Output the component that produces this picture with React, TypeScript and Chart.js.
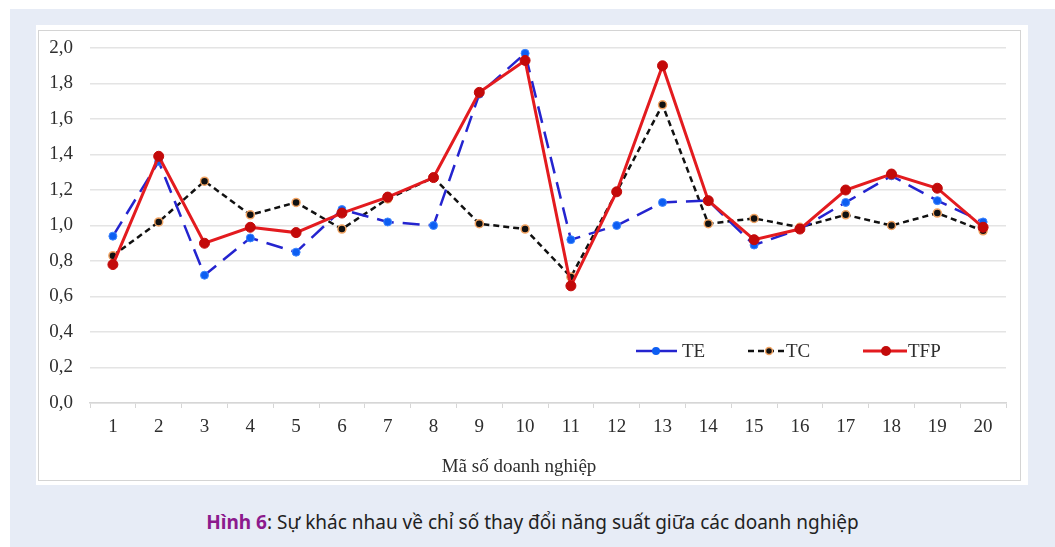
import React, { useEffect, useRef } from "react";
import { Chart, registerables } from "chart.js";

Chart.register(...registerables);

const categories = ["1","2","3","4","5","6","7","8","9","10","11","12","13","14","15","16","17","18","19","20"];
const teValues = [0.94,1.36,0.72,0.93,0.85,1.09,1.02,1.00,1.74,1.97,0.92,1.00,1.13,1.14,0.89,0.98,1.13,1.28,1.14,1.02];
const tcValues = [0.83,1.02,1.25,1.06,1.13,0.98,1.15,1.27,1.01,0.98,0.71,1.19,1.68,1.01,1.04,0.99,1.06,1.00,1.07,0.97];
const tfpValues = [0.78,1.39,0.90,0.99,0.96,1.07,1.16,1.27,1.75,1.93,0.66,1.19,1.90,1.14,0.92,0.98,1.20,1.29,1.21,0.99];
const yMin = 0;
const yMax = 2;
const yStep = 0.2;
const xTitle = "Mã số doanh nghiệp";
const legendLabels = ["TE", "TC", "TFP"];
const captionBold = "Hình 6";
const captionRest = ": Sự khác nhau về chỉ số thay đổi năng suất giữa các doanh nghiệp";

const SERIF = "'Liberation Serif', 'Times New Roman', serif";
const TEXT = "#2e2e2e";

const TE_LINE = "#2424cf";
const TE_POINT = "#0d5ef2";
const TE_POINT_BORDER = "#3d86ff";
const TC_LINE = "#111111";
const TC_POINT = "#111111";
const TC_POINT_BORDER = "#f2a463";
const TFP_LINE = "#e31b1f";
const TFP_POINT = "#c30a0a";

const overlayPlugin = {
  id: "overlay",
  afterDraw(chart: any) {
    const { ctx, chartArea, scales } = chart;
    const y = scales.y;
    ctx.save();
    // x axis title
    ctx.fillStyle = TEXT;
    ctx.font = `19px ${SERIF}`;
    ctx.textAlign = "center";
    ctx.textBaseline = "middle";
    ctx.fillText(xTitle, (chartArea.left + chartArea.right) / 2 - 29, chartArea.bottom + 64);

    // legend inside plot
    const ly = y.getPixelForValue(0.293);
    const r = chartArea.right;
    ctx.textAlign = "left";
    ctx.font = `19px ${SERIF}`;
    // TE
    let sx = r - 370;
    ctx.strokeStyle = TE_LINE;
    ctx.lineWidth = 2.5;
    ctx.setLineDash([]);
    ctx.beginPath();
    ctx.moveTo(sx, ly);
    ctx.lineTo(sx + 41, ly);
    ctx.stroke();
    ctx.beginPath();
    ctx.arc(sx + 20, ly, 4, 0, Math.PI * 2);
    ctx.fillStyle = TE_POINT;
    ctx.fill();
    ctx.fillStyle = TEXT;
    ctx.fillText(legendLabels[0], sx + 46, ly + 1);
    // TC
    sx = r - 258;
    ctx.strokeStyle = TC_LINE;
    ctx.lineWidth = 2.5;
    ctx.setLineDash([6, 4]);
    ctx.beginPath();
    ctx.moveTo(sx, ly);
    ctx.lineTo(sx + 36, ly);
    ctx.stroke();
    ctx.setLineDash([]);
    ctx.beginPath();
    ctx.arc(sx + 21, ly, 3.5, 0, Math.PI * 2);
    ctx.fillStyle = TC_POINT;
    ctx.fill();
    ctx.strokeStyle = TC_POINT_BORDER;
    ctx.lineWidth = 1.5;
    ctx.stroke();
    ctx.fillStyle = TEXT;
    ctx.fillText(legendLabels[1], sx + 38, ly + 1);
    // TFP
    sx = r - 143;
    ctx.strokeStyle = TFP_LINE;
    ctx.lineWidth = 3;
    ctx.beginPath();
    ctx.moveTo(sx, ly);
    ctx.lineTo(sx + 44, ly);
    ctx.stroke();
    ctx.beginPath();
    ctx.arc(sx + 23, ly, 5, 0, Math.PI * 2);
    ctx.fillStyle = TFP_POINT;
    ctx.fill();
    ctx.fillStyle = TEXT;
    ctx.fillText(legendLabels[2], sx + 45, ly + 1);
    ctx.restore();
  },
};

function LineChart() {
  const ref = useRef<HTMLCanvasElement | null>(null);
  useEffect(() => {
    if (!ref.current) return;
    const chart = new Chart(ref.current, {
      type: "line",
      data: {
        labels: categories,
        datasets: [
          {
            label: "TFP",
            data: tfpValues,
            borderColor: TFP_LINE,
            borderWidth: 3,
            pointRadius: 5,
            pointBackgroundColor: TFP_POINT,
            pointBorderColor: TFP_POINT,
            pointBorderWidth: 1,
            tension: 0,
            order: 0,
          },
          {
            label: "TE",
            data: teValues,
            borderColor: TE_LINE,
            borderWidth: 2.5,
            borderDash: [17, 9],
            pointRadius: 4,
            pointBackgroundColor: TE_POINT,
            pointBorderColor: TE_POINT_BORDER,
            pointBorderWidth: 1,
            tension: 0,
            order: 1,
          },
          {
            label: "TC",
            data: tcValues,
            borderColor: TC_LINE,
            borderWidth: 2.5,
            borderDash: [6, 4],
            pointRadius: 4,
            pointBackgroundColor: TC_POINT,
            pointBorderColor: TC_POINT_BORDER,
            pointBorderWidth: 1.5,
            tension: 0,
            order: 2,
          },
        ],
      },
      options: {
        animation: false,
        responsive: false,
        maintainAspectRatio: false,
        layout: { padding: { top: 17, right: 14, left: 0, bottom: 0 } },
        plugins: {
          legend: { display: false },
          tooltip: { enabled: false },
          title: { display: false },
        },
        scales: {
          x: {
            offset: true,
            grid: {
              display: true,
              drawOnChartArea: false,
              drawTicks: true,
              tickLength: 5,
              offset: true,
              color: "#d6d6d6",
            },
            border: { display: true, color: "#d6d6d6", width: 1.5 },
            ticks: {
              color: TEXT,
              font: { family: SERIF, size: 19 },
              padding: 8,
              maxRotation: 0,
              autoSkip: false,
            },
            afterFit(scale: any) {
              scale.height = 77;
            },
          },
          y: {
            min: yMin,
            max: yMax,
            grid: { color: "#e4e4e4", lineWidth: 1.5, drawTicks: false },
            border: { display: false },
            ticks: {
              stepSize: yStep,
              color: TEXT,
              font: { family: SERIF, size: 19 },
              padding: 17,
              callback: (v: any) => Number(v).toFixed(1).replace(".", ","),
            },
            afterFit(scale: any) {
              scale.width = 51;
              scale.paddingTop = 0;
              scale.paddingBottom = 0;
            },
          },
        },
      },
      plugins: [overlayPlugin],
    });
    return () => chart.destroy();
  }, []);
  return <canvas ref={ref} width={981} height={449} style={{ display: "block", width: 981, height: 449 }} />;
}

export default function App() {
  return (
    <div style={{ position: "absolute", left: 0, top: 0, width: 1055, height: 547, background: "#ffffff", overflow: "hidden" }}>
      <div style={{ position: "absolute", left: 10, top: 9, width: 1045, height: 538, background: "#e7ecf6" }} />
      <div style={{ position: "absolute", left: 36, top: 25, width: 992, height: 460, background: "#ffffff" }} />
      <div
        style={{
          position: "absolute",
          left: 38,
          top: 30,
          width: 981,
          height: 449,
          border: "1.5px solid #d4d4d4",
        }}
      />
      <div style={{ position: "absolute", left: 39, top: 31 }}>
        <LineChart />
      </div>
      <div
        style={{
          position: "absolute",
          left: 10,
          width: 1045,
          top: 509,
          textAlign: "center",
          fontFamily: "'Noto Sans', 'Open Sans', sans-serif",
          fontSize: 19,
          color: "#222",
          lineHeight: "26px",
        }}
      >
        <span style={{ color: "#8c1a8d", fontWeight: 700 }}>{captionBold}</span>
        {captionRest}
      </div>
    </div>
  );
}
